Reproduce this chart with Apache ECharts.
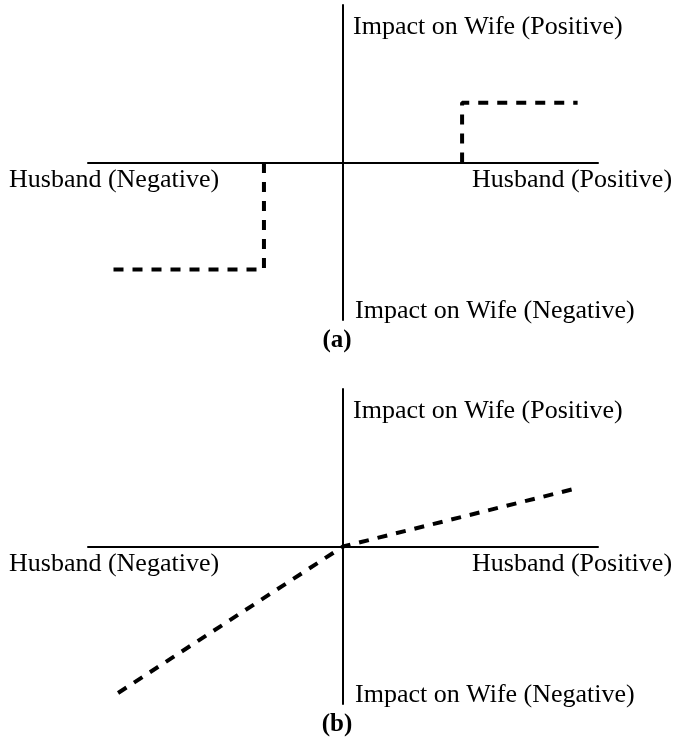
<!DOCTYPE html>
<html>
<head>
<meta charset="utf-8">
<script src="https://cdn.jsdelivr.net/npm/echarts@6/dist/echarts.min.js"></script>
<style>
  html, body { margin: 0; padding: 0; background: #fff; }
  #chart { width: 676px; height: 738px; }
</style>
</head>
<body>
<div id="chart"></div>
<script>
// panel (a): step response, two branches
const stepNegX = [-9.0, -3.1, -3.1]
const stepNegY = [-6.8, -6.8, 0]
const stepPosX = [4.67, 4.67, 9.2]
const stepPosY = [0, 3.8, 3.8]
// panel (b): kinked linear response
const linX = [-8.82, 0, 9.2]
const linY = [-9.3, 0, 3.71]

const xLabels = ['Husband (Negative)', 'Husband (Positive)']
const yLabels = ['Impact on Wife (Positive)', 'Impact on Wife (Negative)']
const panelLabels = ['(a)', '(b)']

const FONT = '"Liberation Serif", "Times New Roman", serif'

function pairs (xs, ys) {
  return xs.map((x, i) => [x, ys[i]])
}

function axisX (gridIndex) {
  return {
    type: 'value', gridIndex: gridIndex, min: -10, max: 10,
    axisLine: { onZero: true, lineStyle: { color: '#000', width: 2 } },
    axisTick: { show: false }, axisLabel: { show: false }, splitLine: { show: false }
  }
}
function axisY (gridIndex) {
  return {
    type: 'value', gridIndex: gridIndex, min: -10, max: 10,
    axisLine: { show: true, onZero: true, lineStyle: { color: '#000', width: 2 } },
    axisTick: { show: false }, axisLabel: { show: false }, splitLine: { show: false }
  }
}
function dashed (data, idx) {
  return {
    type: 'line', xAxisIndex: idx, yAxisIndex: idx, data: data,
    symbol: 'none', silent: true, z: 5,
    lineStyle: { color: '#000', width: 4, type: [10, 9] }
  }
}

// text labels for one panel, dy = vertical offset of the panel
function panelText (dy, name) {
  const st = { fill: '#000', font: '26px ' + FONT, verticalAlign: 'middle' }
  const label = (text, x, y) => ({ type: 'text', style: Object.assign({ text: text, x: x, y: y + dy }, st) })
  return [
    label(yLabels[0], 353, 27),
    label(xLabels[0], 9, 180),
    label(xLabels[1], 472, 180),
    label(yLabels[1], 355, 311),
    { type: 'text', style: { text: name, x: 337, y: 341 + dy, fill: '#000', font: 'bold 25px ' + FONT, align: 'center', verticalAlign: 'middle' } }
  ]
}

const chart = echarts.init(document.getElementById('chart'))

chart.setOption({
  animation: false,
  backgroundColor: '#fff',
  grid: [
    { left: 88, width: 510, top: 5, height: 315 },
    { left: 88, width: 510, top: 389, height: 315 }
  ],
  xAxis: [axisX(0), axisX(1)],
  yAxis: [axisY(0), axisY(1)],
  series: [
    dashed(pairs(stepNegX, stepNegY), 0),
    dashed(pairs(stepPosX, stepPosY), 0),
    dashed(pairs(linX, linY), 1)
  ],
  graphic: panelText(0, panelLabels[0]).concat(panelText(384, panelLabels[1]))
})
</script>
</body>
</html>
